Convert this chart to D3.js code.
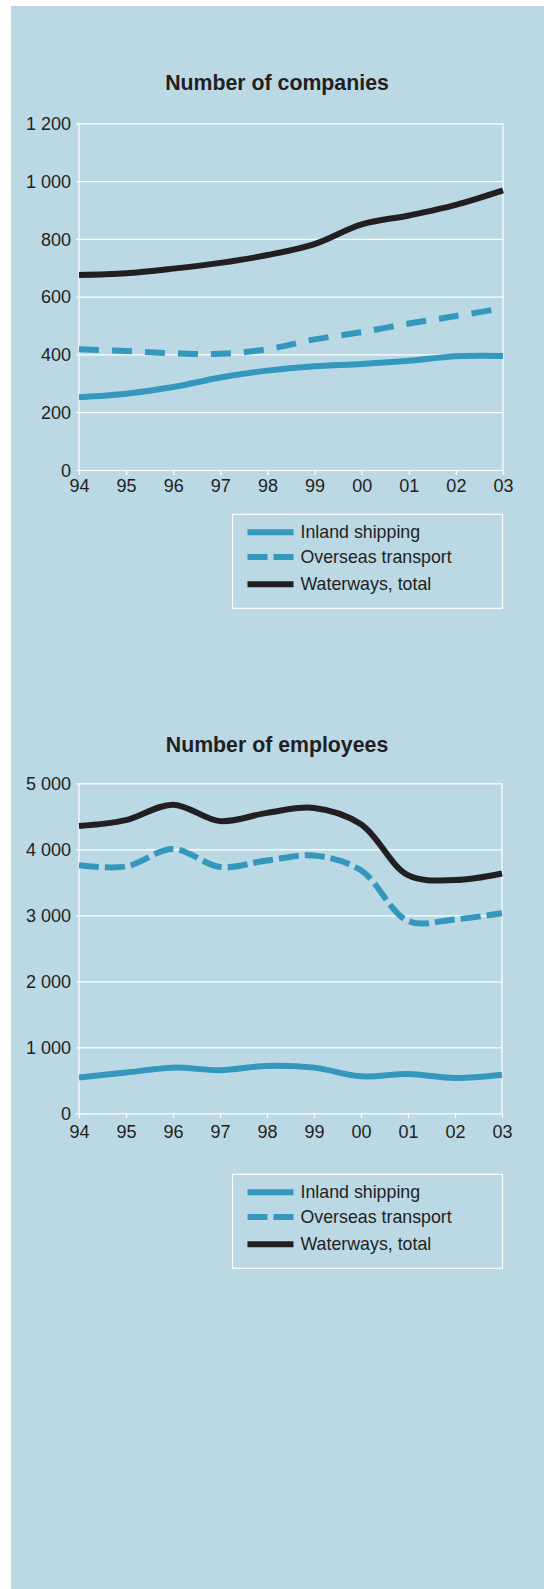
<!DOCTYPE html>
<html>
<head>
<meta charset="utf-8">
<script src="https://cdn.jsdelivr.net/npm/d3@7"></script>
<style>
  html, body { margin: 0; padding: 0; background: #ffffff; }
  svg { display: block; }
  text { font-family: "Liberation Sans", Arial, Helvetica, sans-serif; fill: #231f20; }
</style>
</head>
<body>
<svg id="chart" width="544" height="1589"></svg>
<script>
// Years on the horizontal axis
const years = [1994, 1995, 1996, 1997, 1998, 1999, 2000, 2001, 2002, 2003];

// Number of companies
const companiesInland   = [252, 264, 287, 320, 344, 359, 367, 378, 394, 395];
const companiesOverseas = [418, 412, 404, 402, 418, 452, 477, 507, 533, 560];
const companiesTotal    = [675, 681, 697, 717, 744, 782, 850, 881, 918, 968];

// Number of employees
const employeesInland   = [544, 618, 692, 654, 718, 692, 560, 594, 535, 584];
const employeesOverseas = [3757, 3740, 4005, 3733, 3830, 3905, 3682, 2913, 2938, 3030];
const employeesTotal    = [4352, 4442, 4676, 4427, 4552, 4627, 4380, 3608, 3534, 3633];

// Axis ticks
const companyTicks  = [0, 200, 400, 600, 800, 1000, 1200];
const employeeTicks = [0, 1000, 2000, 3000, 4000, 5000];

// Titles and legend entries
const chartTitles = ["Number of companies", "Number of employees"];
const seriesNames = ["Inland shipping", "Overseas transport", "Waterways, total"];

const BG = "#bbd8e5";
const BLUE = "#3497bc";
const BLACK = "#231f20";

const seriesStyle = [
  { color: BLUE,  dash: null },
  { color: BLUE,  dash: "dashed" },
  { color: BLACK, dash: null }
];

const svg = d3.select("#chart");

// Background panel
svg.append("rect")
  .attr("x", 11).attr("y", 6)
  .attr("width", 533).attr("height", 1583)
  .attr("fill", BG);

const fmt = d3.formatLocale({ decimal: ",", thousands: " ", grouping: [3], currency: ["", ""] }).format(",d");

function drawChart(cfg) {
  const x = d3.scaleLinear().domain([years[0], years[years.length - 1]]).range([79, cfg.right]);
  const y = d3.scaleLinear().domain([0, cfg.ticks[cfg.ticks.length - 1]]).range([cfg.bottom, cfg.top]);

  const g = svg.append("g");

  // Title
  g.append("text")
    .attr("x", 277).attr("y", cfg.titleY)
    .attr("text-anchor", "middle")
    .style("font-size", "21.3px")
    .style("font-weight", "bold")
    .text(cfg.title);

  // Horizontal grid lines with short outward ticks
  const yAxis = d3.axisLeft(y)
    .tickValues(cfg.ticks)
    .tickSize(-(cfg.right - 79) - 3)
    .tickPadding(8)
    .tickFormat(fmt);
  const ya = g.append("g")
    .attr("transform", `translate(${76},0)`)
    .call(yAxis);
  ya.select(".domain").remove();
  ya.selectAll(".tick line")
    .attr("x1", 0)
    .attr("x2", cfg.right - 76)
    .attr("stroke", "#ffffff").attr("stroke-width", 1.2);
  ya.selectAll(".tick text")
    .attr("x", -5)
    .attr("dy", "0.35em")
    .style("font-size", "18px")
    .style("font-family", "\"Liberation Sans\", Arial, Helvetica, sans-serif")
    .attr("fill", "#231f20");

  // Vertical frame lines
  g.append("line")
    .attr("x1", 79).attr("x2", 79)
    .attr("y1", cfg.top).attr("y2", cfg.bottom)
    .attr("stroke", "#ffffff").attr("stroke-width", 1.2);
  g.append("line")
    .attr("x1", cfg.right).attr("x2", cfg.right)
    .attr("y1", cfg.top).attr("y2", cfg.bottom)
    .attr("stroke", "#ffffff").attr("stroke-width", 1.2);

  // Year axis
  const xAxis = d3.axisBottom(x)
    .tickValues(years)
    .tickSize(5)
    .tickPadding(cfg.xPad)
    .tickFormat(d => String(d).slice(2));
  const xa = g.append("g")
    .attr("transform", `translate(0,${cfg.bottom})`)
    .call(xAxis);
  xa.select(".domain").remove();
  xa.selectAll(".tick line").attr("stroke", "#ffffff").attr("stroke-width", 1.2);
  xa.selectAll(".tick text")
    .style("font-size", "18px")
    .style("font-family", "\"Liberation Sans\", Arial, Helvetica, sans-serif")
    .attr("fill", "#231f20");

  // Series lines
  const line = d3.line()
    .x((d, i) => x(years[i]))
    .y(d => y(d))
    .curve(d3.curveCatmullRom.alpha(0.5));

  cfg.series.forEach((values, i) => {
    const st = seriesStyle[i];
    g.append("path")
      .datum(values)
      .attr("d", line)
      .attr("fill", "none")
      .attr("stroke", st.color)
      .attr("stroke-width", 6)
      .attr("stroke-dasharray", st.dash ? cfg.dash : null);
  });

  // Legend
  const lg = g.append("g").attr("transform", `translate(232.5,${cfg.legendTop})`);
  lg.append("rect")
    .attr("x", 0).attr("y", 0)
    .attr("width", 270).attr("height", 94)
    .attr("fill", "none")
    .attr("stroke", "#ffffff").attr("stroke-width", 1.2);
  const rowY = [18, 42.7, 70];
  seriesNames.forEach((name, i) => {
    const st = seriesStyle[i];
    lg.append("line")
      .attr("x1", 15).attr("x2", 61)
      .attr("y1", rowY[i]).attr("y2", rowY[i])
      .attr("stroke", st.color)
      .attr("stroke-width", 6)
      .attr("stroke-dasharray", st.dash ? "20,6" : null);
    lg.append("text")
      .attr("x", 68).attr("y", rowY[i] + 6)
      .style("font-size", "17.8px")
      .text(name);
  });
}

drawChart({
  title: chartTitles[0],
  titleY: 90,
  top: 123.3, bottom: 470, right: 503,
  ticks: companyTicks,
  xPad: 4,
  dash: "20,13",
  series: [companiesInland, companiesOverseas, companiesTotal],
  legendTop: 514.3
});

drawChart({
  title: chartTitles[1],
  titleY: 752,
  top: 783.3, bottom: 1113.3, right: 502,
  ticks: employeeTicks,
  xPad: 7,
  dash: "20,6",
  series: [employeesInland, employeesOverseas, employeesTotal],
  legendTop: 1174.3
});
</script>
</body>
</html>
